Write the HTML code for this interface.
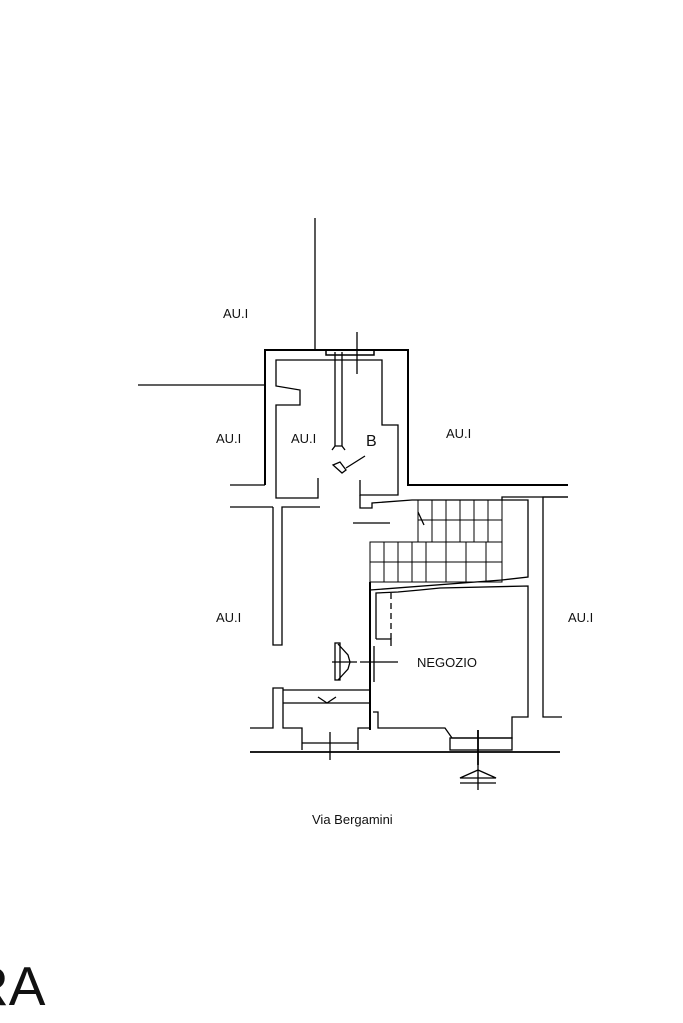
<!DOCTYPE html>
<html><head><style>
html,body{margin:0;padding:0;background:#fff;}
svg{display:block;}
text{font-family:"Liberation Sans",sans-serif;fill:#111;}
</style></head><body>
<svg width="683" height="1023" viewBox="0 0 683 1023" xmlns="http://www.w3.org/2000/svg">
<g stroke="#000" fill="none" stroke-width="1.3">
<!-- top lines -->
<line x1="315" y1="218" x2="315" y2="350"/>
<line x1="138" y1="385" x2="265" y2="385"/>
<!-- outer building top -->
<polyline points="265,485 265,350 408,350 408,485 568,485" stroke-width="2"/>
<rect x="326" y="350" width="48" height="5" stroke-width="1.5"/>
<line x1="357" y1="332" x2="357" y2="374"/>
<line x1="335" y1="352" x2="335" y2="446"/>
<line x1="342" y1="352" x2="342" y2="446"/>
<path d="M332,450 L335,446 L342,446 L345,450"/>
<!-- inner room -->
<polyline points="318,478 318,498 276,498 276,405 300,405 300,390 276,386 276,360 382,360 382,425 398,425 398,495 360,495 360,480"/>
<!-- lower left corridor -->
<line x1="230" y1="485" x2="265" y2="485"/>
<line x1="230" y1="507" x2="273" y2="507"/>
<polyline points="273,507 273,645 282,645 282,507 320,507"/>
<!-- mid corridor lines -->
<polyline points="360,495 360,508 372,508 372,503 412,500 418,500 502,500 502,497 568,497"/>
<line x1="353" y1="523" x2="390" y2="523"/>
<!-- stairs -->
<rect x="418" y="500" width="84" height="42" stroke-width="1"/>
<g stroke-width="1">
<line x1="418" y1="520" x2="502" y2="520"/>
<line x1="432" y1="500" x2="432" y2="542"/><line x1="446" y1="500" x2="446" y2="542"/>
<line x1="460" y1="500" x2="460" y2="542"/><line x1="474" y1="500" x2="474" y2="542"/>
<line x1="488" y1="500" x2="488" y2="542"/>
<rect x="370" y="542" width="132" height="40"/>
<line x1="370" y1="562" x2="502" y2="562"/>
<line x1="384" y1="542" x2="384" y2="582"/><line x1="398" y1="542" x2="398" y2="582"/>
<line x1="412" y1="542" x2="412" y2="582"/><line x1="426" y1="542" x2="426" y2="582"/>
<line x1="446" y1="542" x2="446" y2="582"/><line x1="466" y1="542" x2="466" y2="582"/>
<line x1="486" y1="542" x2="486" y2="582"/>
</g>
<polyline points="502,500 528,500 528,577 502,580"/>
<line x1="370" y1="590" x2="502" y2="580"/>
<!-- right outer wall -->
<polyline points="568,497 543,497 543,717 562,717"/>
<!-- negozio -->
<line x1="370" y1="582" x2="370" y2="730" stroke-width="2"/>
<polyline points="376,639 376,593 398,592 420,590 440,588 528,586 528,717 512,717 512,738 452,738 445,728 378,728 378,712 373,712"/>
<line x1="391" y1="593" x2="391" y2="640" stroke-dasharray="6,4"/>
<polyline points="376,639 391,639 391,646"/>
<line x1="374" y1="646" x2="374" y2="682"/>
<line x1="360" y1="662" x2="398" y2="662"/>
<!-- door symbol left -->
<rect x="335" y="643" width="5" height="37"/>
<line x1="332" y1="662" x2="357" y2="662"/>
<polyline points="338,644 348,655 350,662 348,669 338,680"/>
<!-- bottom left block -->
<polyline points="250,728 273,728 273,688 283,688 283,728 302,728 302,750"/>
<line x1="283" y1="690" x2="370" y2="690"/>
<line x1="283" y1="703" x2="370" y2="703"/>
<path d="M318,697 L327,703 L336,697"/>
<polyline points="358,750 358,728 370,728"/>
<line x1="302" y1="743" x2="358" y2="743"/>
<line x1="330" y1="732" x2="330" y2="760"/>
<!-- bottom street -->
<line x1="250" y1="752" x2="560" y2="752" stroke-width="1.8"/>
<rect x="450" y="738" width="62" height="12"/>
<line x1="478" y1="730" x2="478" y2="765" stroke-width="1.8"/>
<path d="M460,778 L478,770 L496,778 Z"/>
<line x1="460" y1="783" x2="496" y2="783"/>
<line x1="478" y1="765" x2="478" y2="790"/>
<!-- B symbol -->
<path d="M333,465 L340,462 L346,470 L342,473 Z"/>
<line x1="346" y1="468" x2="365" y2="456"/>
<line x1="418" y1="512" x2="424" y2="525"/>
</g>
<g font-size="13">
<text x="223" y="318">AU.I</text>
<text x="216" y="443">AU.I</text>
<text x="291" y="443">AU.I</text>
<text x="366" y="446" font-size="16">B</text>
<text x="446" y="438">AU.I</text>
<text x="216" y="622">AU.I</text>
<text x="568" y="622">AU.I</text>
<text x="417" y="667">NEGOZIO</text>
<text x="312" y="824">Via Bergamini</text>
</g>
<text x="-31" y="1005" font-size="55">RA</text>
</svg>
</body></html>
